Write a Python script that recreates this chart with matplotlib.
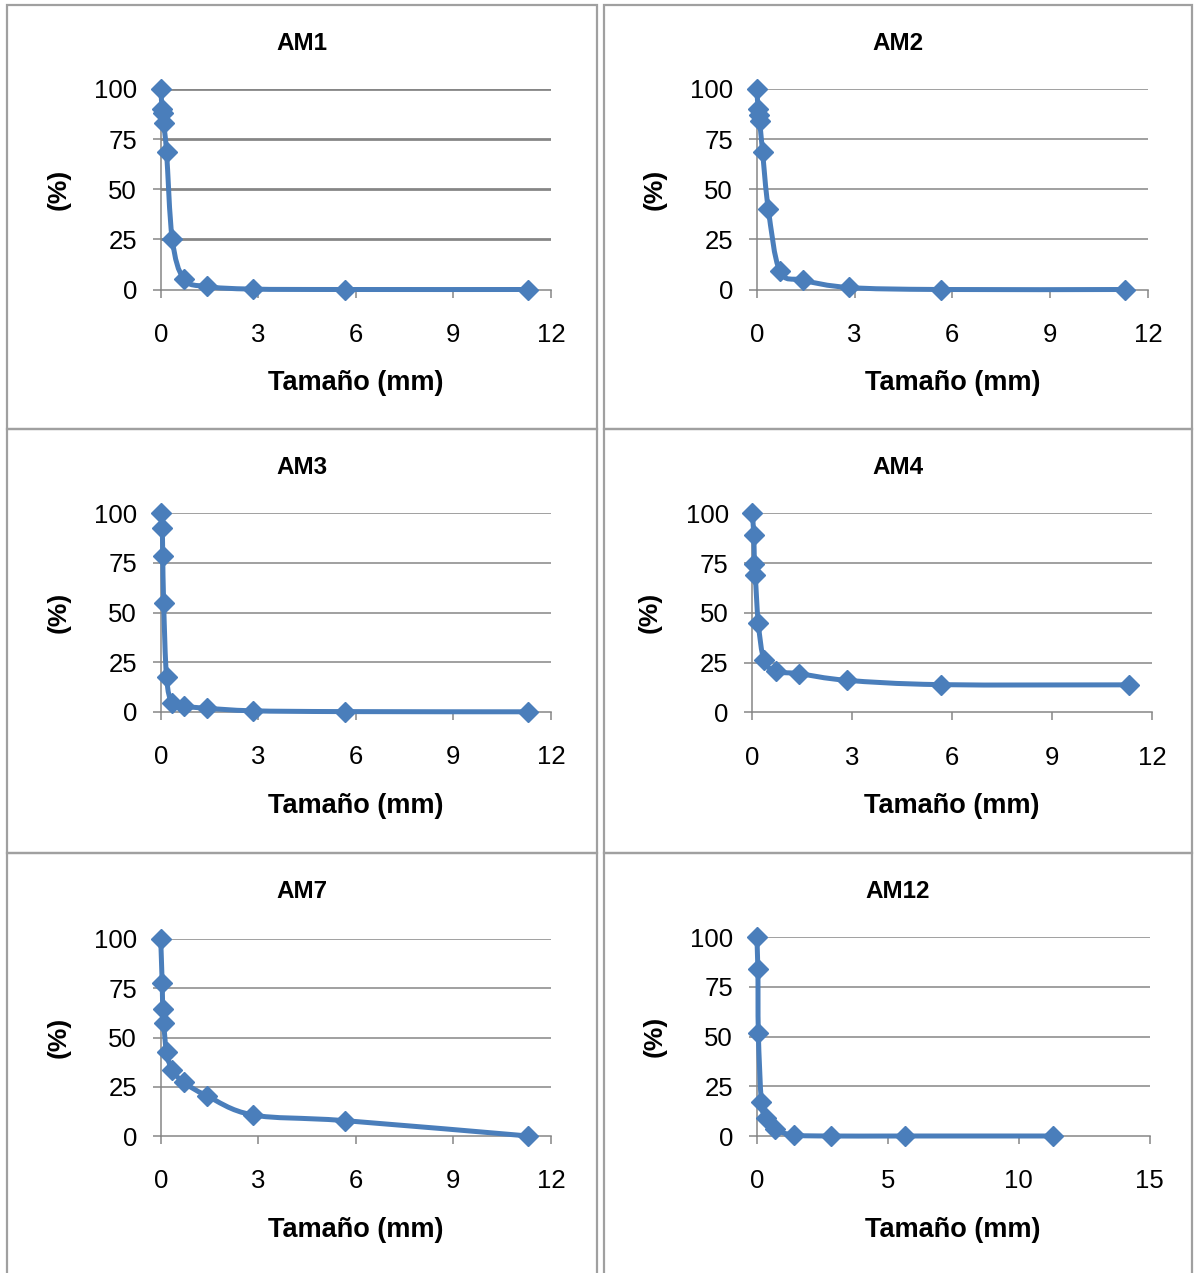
import matplotlib
matplotlib.use("Agg")
import matplotlib.pyplot as plt
from matplotlib.path import Path
from matplotlib.patches import PathPatch, Rectangle
import numpy as np

plt.rcParams['font.family'] = ['Liberation Sans', 'DejaVu Sans']

# ---- data ----
size_mm = [0.0, 0.045, 0.063, 0.09, 0.18, 0.355, 0.71, 1.41, 2.83, 5.66, 11.3]
size_mm_am12 = [0.0, 0.045, 0.063, 0.18, 0.355, 0.71, 1.41, 2.83, 5.66, 11.3]

am1 = [100, 89.8, 88.0, 83.2, 68.5, 25.1, 5.3, 1.5, 0.2, 0.0, 0.0]
am2 = [100, 89.9, 87.0, 84.2, 68.6, 40.3, 9.2, 4.7, 1.0, 0.0, 0.0]
am3 = [100, 92.8, 78.5, 55.0, 17.3, 4.5, 2.8, 1.8, 0.5, 0.1, 0.0]
am4 = [100, 89.0, 74.6, 68.8, 44.9, 26.1, 20.6, 19.4, 16.1, 13.9, 13.8]
am7 = [100, 77.8, 64.5, 57.5, 42.5, 33.5, 27.2, 20.5, 10.7, 7.8, 0.0]
am12 = [100, 84.2, 51.7, 17.3, 8.9, 3.4, 0.5, 0.0, 0.0, 0.0]

panels = [
    ("AM1", size_mm, am1, [0, 3, 6, 9, 12]),
    ("AM2", size_mm, am2, [0, 3, 6, 9, 12]),
    ("AM3", size_mm, am3, [0, 3, 6, 9, 12]),
    ("AM4", size_mm, am4, [0, 3, 6, 9, 12]),
    ("AM7", size_mm, am7, [0, 3, 6, 9, 12]),
    ("AM12", size_mm_am12, am12, [0, 5, 10, 15]),
]
y_ticks = [0, 25, 50, 75, 100]

# ---- layout (pixels) ----
W, H = 1195, 1273
fig = plt.figure(figsize=(W / 100, H / 100), dpi=100)

# axes boxes: (x0, x1, ytop(100), ybottom(0)) in pixel coords
boxes = [
    (160.7, 551.0, 89.0, 289.5),
    (756.7, 1148.0, 89.0, 289.5),
    (160.7, 551.0, 513.3, 711.8),
    (752.3, 1152.0, 513.3, 712.3),
    (160.7, 551.0, 939.0, 1136.0),
    (756.7, 1149.7, 937.3, 1136.0),
]
# panel frames: (x0, y0, x1, y1) pixels
frames = [
    (7, 5, 597, 429), (604, 5, 1192, 429),
    (7, 429, 597, 853), (604, 429, 1192, 853),
    (7, 853, 597, 1290), (604, 853, 1192, 1290),
]

border_col = "#A0A0A0"
for (x0, y0, x1, y1) in frames:
    fig.patches.append(Rectangle((x0 / W, 1 - y1 / H), (x1 - x0) / W, (y1 - y0) / H,
                                 transform=fig.transFigure, fill=False,
                                 edgecolor=border_col, linewidth=1.6, zorder=0))

line_col = "#4A7EBB"
grid_col = "#868686"


def smooth_path(xs, ys):
    pts = np.column_stack([xs, ys]).astype(float)
    n = len(pts)
    verts = [pts[0]]
    codes = [Path.MOVETO]
    for i in range(n - 1):
        p0 = pts[i - 1] if i > 0 else pts[i]
        p1 = pts[i]
        p2 = pts[i + 1]
        p3 = pts[i + 2] if i + 2 < n else pts[i + 1]
        c1 = p1 + (p2 - p0) / 6.0
        c2 = p2 - (p3 - p1) / 6.0
        verts += [c1, c2, p2]
        codes += [Path.CURVE4] * 3
    return Path(verts, codes)


for idx, ((name, xs, ys, xt), (x0, x1, yt, yb), fr) in enumerate(zip(panels, boxes, frames)):
    ax = fig.add_axes([x0 / W, 1 - yb / H, (x1 - x0) / W, (yb - yt) / H])
    ax.set_xlim(xt[0], xt[-1])
    ax.set_ylim(0, 100)
    ax.set_xticks(xt)
    ax.set_yticks(y_ticks)
    glw = 2.0 if idx == 0 else 1.1
    for v in y_ticks[1:]:
        ax.axhline(v, color=grid_col, lw=glw, zorder=1)
    for s in ["top", "right"]:
        ax.spines[s].set_visible(False)
    for s in ["left", "bottom"]:
        ax.spines[s].set_color(grid_col)
        ax.spines[s].set_linewidth(1.1)
    ax.tick_params(axis="both", direction="out", length=6, width=1.1, color=grid_col,
                   labelsize=18.5)
    ax.tick_params(axis="y", pad=11)
    ax.tick_params(axis="x", pad=18)
    ax.set_facecolor("none")

    patch = PathPatch(smooth_path(xs, ys), facecolor="none", edgecolor=line_col,
                      lw=3.6, zorder=3, clip_on=False, capstyle="round", joinstyle="round")
    ax.add_patch(patch)
    ax.plot(xs, ys, linestyle="none", marker="D", markersize=10.5, color=line_col,
            markeredgecolor=line_col, markeredgewidth=1, zorder=4, clip_on=False)

    fx0, fy0, fx1, fy1 = fr
    cx = (fx0 + fx1) / 2
    fig.text(cx / W, 1 - (43 + fy0 - 5) / H, name, ha="center", va="center",
             fontsize=17.5, fontweight="bold")
    ax.set_xlabel("Tamaño (mm)", fontsize=19.5, fontweight="bold", labelpad=17)
    ax.set_ylabel("(%)", fontsize=19, fontweight="bold", labelpad=17)

fig.savefig("out.png", dpi=100, facecolor="white")
